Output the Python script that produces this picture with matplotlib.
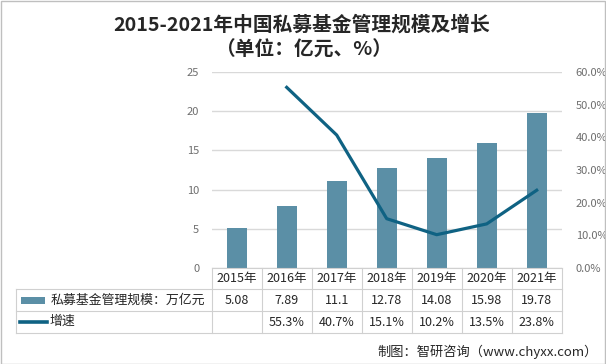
import matplotlib
matplotlib.use("Agg")
import matplotlib.pyplot as plt
from matplotlib.lines import Line2D
from matplotlib.patches import Rectangle

plt.rcParams['font.family'] = ['Noto Sans CJK SC', 'DejaVu Sans']

years = ['2015年', '2016年', '2017年', '2018年', '2019年', '2020年', '2021年']
scale = [5.08, 7.89, 11.1, 12.78, 14.08, 15.98, 19.78]
growth = [None, 55.3, 40.7, 15.1, 10.2, 13.5, 23.8]
scale_labels = ['5.08', '7.89', '11.1', '12.78', '14.08', '15.98', '19.78']
series_bar = '私募基金管理规模：万亿元'
series_line = '增速'
title_1 = '2015-2021年中国私募基金管理规模及增长'
title_2 = '（单位：亿元、%）'
source = '制图：智研咨询（www.chyxx.com）'

W, H = 606, 364
fig = plt.figure(figsize=(W / 100, H / 100), dpi=100)

def fx(x):
    return x / W

def fy(y):
    return 1 - y / H

bar_color = '#5B8FA6'
line_color = '#0F6283'
grid_color = '#D9D9D9'
tick_color = '#6E6E6E'

pl, pr, pt, pb = 211.7, 561.7, 72, 268
ax = fig.add_axes([fx(pl), fy(pb), (pr - pl) / W, (pb - pt) / H])
x = list(range(len(years)))
ax.bar(x, scale, width=0.4, color=bar_color, zorder=2)
ax.set_xlim(-0.5, len(years) - 0.5)
ax.set_ylim(0, 25)
ax.set_yticks([0, 5, 10, 15, 20, 25])
ax.yaxis.grid(True, color=grid_color, linewidth=1)
ax.set_axisbelow(True)
for s in ax.spines.values():
    s.set_visible(False)
ax.set_xticks([])
ax.tick_params(axis='y', length=0, pad=9, labelsize=8, labelcolor=tick_color)

ax2 = ax.twinx()
gx = [i for i, g in zip(x, growth) if g is not None]
gy = [g for g in growth if g is not None]
ax2.plot(gx, gy, color=line_color, linewidth=2.3, zorder=3)
ax2.set_ylim(0, 60)
ax2.set_yticks([0, 10, 20, 30, 40, 50, 60])
ax2.set_yticklabels([f'{v:.1f}%' for v in [0, 10, 20, 30, 40, 50, 60]])
for s in ax2.spines.values():
    s.set_visible(False)
ax2.tick_params(axis='y', length=0, pad=10, labelsize=8, labelcolor=tick_color)

# Title
fig.text(fx(302), fy(25), title_1, ha='center', va='center',
         fontsize=14.2, fontweight='bold', color='#262626')
fig.text(fx(304), fy(50), title_2, ha='center', va='center',
         fontsize=14.2, fontweight='bold', color='#262626')

# Data table
tc = '#D0D0D0'
col_w = (pr - pl) / len(years)
rows = [268, 289, 311, 333]
def hline(x0, x1, y):
    fig.add_artist(Line2D([fx(x0), fx(x1)], [fy(y), fy(y)], color=tc, linewidth=0.8))
def vline(xx, y0, y1):
    fig.add_artist(Line2D([fx(xx), fx(xx)], [fy(y0), fy(y1)], color=tc, linewidth=0.8))
hline(pl, pr, rows[0])
for r in rows[1:]:
    hline(16, pr, r)
vline(16, rows[1], rows[3])
for i in range(len(years) + 1):
    vline(pl + i * col_w, rows[0], rows[3])

txt_kw = dict(ha='center', va='center', fontsize=9, color='#262626')
for i, yr in enumerate(years):
    cx = pl + (i + 0.5) * col_w
    fig.text(fx(cx), fy((rows[0] + rows[1]) / 2), yr, **txt_kw)
    fig.text(fx(cx), fy((rows[1] + rows[2]) / 2), scale_labels[i], **txt_kw)
    if growth[i] is not None:
        fig.text(fx(cx), fy((rows[2] + rows[3]) / 2), f'{growth[i]:.1f}%', **txt_kw)

fig.add_artist(Rectangle((fx(21), fy(303.5)), fx(24), 6.5 / H, facecolor=bar_color, edgecolor='none'))
fig.text(fx(51), fy(300), series_bar, ha='left', va='center', fontsize=9.3, color='#262626')
fig.add_artist(Line2D([fx(20), fx(47)], [fy(321.5), fy(321.5)], color=line_color, linewidth=2.6))
fig.text(fx(50), fy(321), series_line, ha='left', va='center', fontsize=9.3, color='#262626')

fig.text(fx(598), fy(352), source, ha='right', va='center', fontsize=9.5, color='#262626')

fig.add_artist(Rectangle((0.5 / W, 0.5 / H), 1 - 1.5 / W, 1 - 1.5 / H, fill=False,
                         edgecolor='#BFBFBF', linewidth=1))

fig.savefig('out.png', dpi=100)
